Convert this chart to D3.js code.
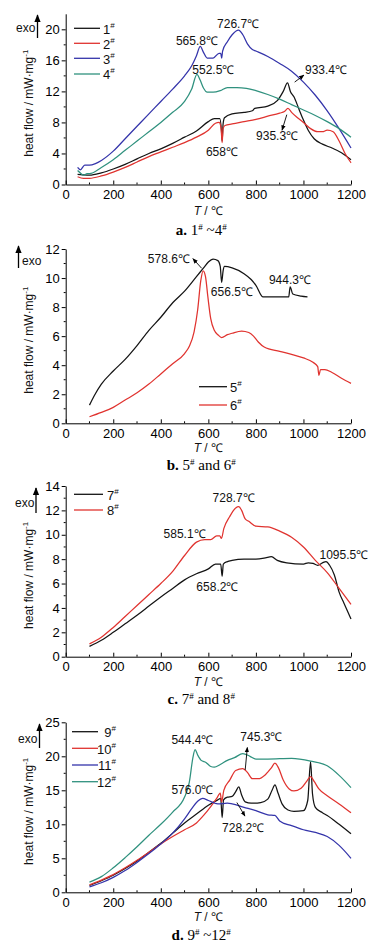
<!DOCTYPE html>
<html>
<head>
<meta charset="utf-8">
<script src="https://cdn.jsdelivr.net/npm/d3@7"></script>
<style>
  html, body { margin: 0; padding: 0; background: #fff; }
  svg { display: block; font-family: "Liberation Sans", Arial, sans-serif; }
</style>
</head>
<body>
<div id="chart"></div>
<script>
// ---- data: [T (°C), heat flow (mW/mg)] ----
const curve1 = [[50,1.3],[70,1.25],[100,1.2],[150,1.5],[200,2.0],[250,2.6],[300,3.3],[350,4.0],[400,4.6],[450,5.3],[500,6.1],[550,6.9],[600,8.1],[625,8.5],[648,8.5],[655,7.0],[658,5.6],[662,7.8],[668,8.6],[700,9.1],[750,9.3],[785,9.5],[795,9.8],[850,10.1],[890,10.8],[915,12.0],[933,13.1],[945,12.0],[960,11.3],[980,9.8],[1000,8.3],[1020,7.0],[1045,5.9],[1080,5.2],[1120,4.7],[1160,4.1],[1200,3.2]];
const curve2 = [[50,1.0],[75,0.8],[100,0.8],[150,1.1],[200,1.6],[250,2.2],[300,2.9],[350,3.6],[400,4.2],[450,4.8],[500,5.4],[550,6.1],[600,7.0],[630,7.9],[645,8.0],[653,7.4],[658,5.4],[662,7.2],[670,7.6],[700,7.8],[750,8.1],[800,8.4],[850,8.8],[900,9.2],[920,9.4],[935,9.8],[950,9.3],[975,8.6],[1000,8.0],[1030,7.2],[1060,6.8],[1080,6.8],[1100,7.0],[1125,6.8],[1150,5.6],[1175,4.0],[1200,2.8]];
const curve3 = [[50,2.2],[62,1.9],[80,2.5],[100,2.5],[125,2.7],[150,3.1],[200,4.3],[250,5.9],[300,7.5],[350,9.1],[400,10.7],[450,12.3],[500,14.0],[530,15.3],[550,16.6],[566,17.8],[580,17.0],[595,16.3],[620,16.3],[645,16.9],[652,16.9],[656,16.3],[660,17.2],[680,18.4],[700,19.3],[727,19.9],[745,19.3],[765,18.1],[785,17.4],[800,17.2],[850,16.5],[900,15.6],[950,14.6],[1000,13.2],[1050,11.5],[1100,9.5],[1150,7.2],[1200,4.7]];
const curve4 = [[50,1.8],[65,1.4],[75,1.2],[90,1.4],[100,1.4],[150,2.2],[200,3.2],[250,4.4],[300,5.6],[350,6.8],[400,8.0],[450,9.3],[500,10.7],[530,12.3],[552,14.2],[565,13.5],[580,12.4],[595,11.9],[620,11.9],[650,12.1],[680,12.5],[720,12.5],[760,12.4],[800,12.1],[850,11.6],[900,11.0],[950,10.3],[1000,9.6],[1050,8.9],[1100,8.1],[1150,7.2],[1200,6.1]];

const curve5 = [[100,1.25],[120,1.9],[150,2.7],[200,3.6],[250,4.4],[300,5.35],[350,6.4],[400,7.3],[450,8.3],[500,9.1],[550,10.1],[580,10.7],[600,11.1],[620,11.3],[640,11.2],[650,10.8],[656,9.7],[662,10.5],[668,10.8],[700,10.7],[750,10.3],[780,9.9],[800,9.5],[830,8.7],[900,8.7],[938,8.7],[944,9.4],[955,8.9],[990,8.75],[1017,8.7]];
const curve6 = [[100,0.45],[150,0.75],[200,1.1],[250,1.6],[300,2.1],[350,2.7],[400,3.4],[450,4.1],[500,4.8],[520,5.3],[540,6.3],[555,7.8],[568,9.8],[578,10.5],[588,10.1],[598,8.7],[610,7.2],[625,6.4],[640,6.1],[656,5.9],[680,6.1],[700,6.2],[740,6.35],[770,6.25],[790,6.0],[810,5.6],[835,5.25],[900,4.95],[950,4.75],[1000,4.5],[1040,4.2],[1060,3.9],[1065,3.3],[1072,3.7],[1090,3.7],[1120,3.5],[1160,3.1],[1200,2.75]];

const curve7 = [[100,0.85],[150,1.35],[200,2.0],[250,2.7],[300,3.4],[350,4.15],[400,4.9],[450,5.6],[500,6.3],[550,6.8],[600,7.2],[630,7.6],[652,7.6],[658,6.6],[663,7.6],[680,7.8],[700,7.9],[750,8.0],[800,8.0],[840,8.1],[865,8.2],[890,7.9],[930,7.7],[1000,7.6],[1020,7.7],[1040,7.65],[1060,7.5],[1080,7.7],[1095,7.8],[1110,7.5],[1130,6.7],[1150,5.3],[1170,4.4],[1200,3.1]];
const curve8 = [[100,1.05],[150,1.6],[200,2.4],[250,3.3],[300,4.2],[350,5.1],[400,6.0],[450,7.0],[500,8.3],[550,9.4],[585,9.6],[610,9.6],[635,9.9],[648,9.9],[655,9.7],[665,10.5],[690,11.5],[715,12.2],[728,12.3],[740,12.0],[755,11.3],[770,11.1],[800,10.7],[850,10.65],[900,10.3],[950,9.8],[1000,9.0],[1050,7.9],[1100,6.9],[1150,5.6],[1200,4.3]];

const curve9 = [[100,1.0],[150,1.7],[200,2.5],[250,3.5],[300,4.6],[350,5.9],[400,7.2],[450,8.7],[500,10.2],[550,11.5],[600,12.8],[640,13.6],[652,13.8],[658,11.0],[664,13.6],[680,14.0],[700,14.1],[715,14.8],[728,15.5],[740,14.3],[755,13.3],[780,13.1],[820,13.2],[850,13.7],[868,15.0],[880,15.8],[893,14.6],[910,13.0],[935,12.1],[960,11.9],[1000,12.0],[1018,13.5],[1030,19.2],[1038,14.5],[1050,12.5],[1080,11.7],[1100,11.3],[1150,10.0],[1200,8.6]];
const curve10 = [[100,1.1],[150,1.8],[200,2.6],[250,3.6],[300,4.7],[350,5.9],[400,7.1],[450,8.2],[500,9.2],[550,10.2],[580,11.3],[610,12.6],[635,13.8],[650,14.6],[656,13.3],[665,15.0],[690,16.5],[715,17.9],[745,18.2],[765,17.6],[785,16.7],[810,16.7],[840,17.3],[865,18.3],[880,19.0],[895,18.3],[915,16.5],[940,15.2],[960,14.9],[990,15.3],[1015,16.4],[1030,17.0],[1045,16.3],[1065,15.2],[1100,14.2],[1150,13.0],[1200,11.7]];
const curve11 = [[100,0.8],[150,1.4],[200,2.2],[250,3.2],[300,4.4],[350,5.7],[400,7.1],[450,8.7],[500,10.8],[530,12.3],[555,13.4],[576,13.8],[600,13.5],[640,13.0],[680,13.1],[700,13.0],[750,12.5],[800,12.0],[850,11.4],[880,11.3],[900,10.5],[950,9.8],[1000,9.2],[1050,8.8],[1100,8.2],[1150,6.9],[1200,5.0]];
const curve12 = [[100,1.5],[150,2.3],[200,3.6],[250,5.1],[300,6.7],[350,8.4],[400,10.0],[450,11.8],[500,14.0],[520,16.2],[535,19.8],[544,21.0],[555,20.2],[570,19.4],[590,19.1],[610,18.5],[625,18.4],[650,18.8],[680,19.4],[710,19.8],[745,20.4],[775,20.0],[800,19.6],[850,19.6],[950,19.7],[1030,19.3],[1100,18.6],[1150,17.2],[1200,15.4]];

const xTicks = [0, 200, 400, 600, 800, 1000, 1200];

// annotation texts placed at (T, value) centre; arrows from -> to in data space
const notesA = [["726.7℃",725,20.7],["565.8℃",552,18.6],["552.5℃",621,14.75],["933.4℃",1095,14.75],["935.3℃",889,6.25],["658℃",657,4.2]];
const arrowsA = [[[963,13.2],[1002,14.1]],[[930,9.0],[910,7.0]]];
const notesB = [["578.6℃",434,11.36],["656.5℃",699,9.06],["944.3℃",943,9.86]];
const arrowsB = [[[572,10.67],[535,11.34]]];
const notesC = [["728.7℃",706,13.04],["585.1℃",500,10.07],["658.2℃",638,5.74],["1095.5℃",1170,8.34]];
const arrowsC = [];
const notesD = [["544.4℃",533,22.4],["745.3℃",823,22.9],["576.0℃",533,15.04],["728.2℃",746,9.56]];
const arrowsD = [[[755,18.0],[764,21.3]],[[720,13.2],[754,11.2]]];

const BLACK = "#141414", RED = "#e0332f", BLUE = "#3434aa", TEAL = "#2f917e";

const panels = [
  { y0: 184.5, y1: 13.8, yMax: 22, yTicks: [0,4,8,12,16,20], yMinor: 2,
    series: [[curve1,"1",BLACK],[curve2,"2",RED],[curve3,"3",BLUE],[curve4,"4",TEAL]],
    legend: { x1: 74, x2: 100, tx: 103, ys: [28.3,43.3,58.3,74], anchor: "start" },
    exo: { tx: 16, ty: 28, ax: 37.5, ayTop: 14, ayBot: 38 },
    notes: notesA, arrows: arrowsA, tY: 215, capY: 235, cap: ["a.", "1", " ~4"] },
  { y0: 423.3, y1: 249, yMax: 12, yTicks: [0,2,4,6,8,10,12], yMinor: 1,
    series: [[curve5,"5",BLACK],[curve6,"6",RED]],
    legend: { x1: 199, x2: 227, tx: 230, ys: [386.7,405], anchor: "start" },
    exo: { tx: 22, ty: 261, ax: 18.5, ayTop: 245, ayBot: 268 },
    notes: notesB, arrows: arrowsB, tY: 452, capY: 470, cap: ["b.", "5", " and 6"] },
  { y0: 656.7, y1: 486, yMax: 14, yTicks: [0,2,4,6,8,10,12,14], yMinor: 1,
    series: [[curve7,"7",BLACK],[curve8,"8",RED]],
    legend: { x1: 74, x2: 103, tx: 107, ys: [494.3,510], anchor: "start" },
    exo: { tx: 15, ty: 503, ax: 36, ayTop: 487, ayBot: 513 },
    notes: notesC, arrows: arrowsC, tY: 686, capY: 704, cap: ["c.", "7", " and 8"] },
  { y0: 892.3, y1: 722.3, yMax: 25, yTicks: [0,5,10,15,20,25], yMinor: 2.5,
    series: [[curve9,"9",BLACK],[curve10,"10",RED],[curve11,"11",BLUE],[curve12,"12",TEAL]],
    legend: { x1: 72, x2: 98, tx: 116, ys: [731.7,748.3,765,781.7], anchor: "end" },
    exo: { tx: 18, ty: 739, ax: 39.5, ayTop: 723, ayBot: 748 },
    notes: notesD, arrows: arrowsD, tY: 921, capY: 940, cap: ["d.", "9", " ~12"] }
];

const W = 382, H = 949;
const svg = d3.select("#chart").append("svg").attr("width", W).attr("height", H);

const defs = svg.append("defs");
defs.append("marker").attr("id", "head").attr("viewBox", "0 0 10 10")
  .attr("refX", 9).attr("refY", 5).attr("markerWidth", 6).attr("markerHeight", 6)
  .attr("orient", "auto-start-reverse")
  .append("path").attr("d", "M0,1L10,5L0,9Z").attr("fill", "#000");

const x = d3.scaleLinear().domain([0, 1200]).range([65.7, 351]);

panels.forEach(p => {
  const y = d3.scaleLinear().domain([0, p.yMax]).range([p.y0, p.y1]);
  const g = svg.append("g");

  // curves
  const line = d3.line().x(d => x(d[0])).y(d => y(d[1])).curve(d3.curveMonotoneX);
  p.series.forEach(([data, , color]) => {
    g.append("path").datum(data).attr("d", line)
      .attr("fill", "none").attr("stroke", color).attr("stroke-width", 1.25);
  });

  // x axis
  const xMinor = d3.range(100, 1200, 200);
  const xa = g.append("g").attr("transform", `translate(0,${p.y0})`)
    .call(d3.axisBottom(x).tickValues(xTicks).tickFormat(d3.format("d"))
      .tickSize(-4).tickPadding(5).tickSizeOuter(0));
  xa.selectAll("text").attr("font-size", 13).attr("fill", "#000");
  xa.selectAll(".minor").data(xMinor).enter().append("line")
    .attr("x1", d => x(d)).attr("x2", d => x(d)).attr("y1", 0).attr("y2", -2)
    .attr("stroke", "#000");

  // y axis
  const yMinor = d3.range(p.yMinor, p.yMax, p.yMinor).filter(v => !p.yTicks.includes(v));
  const ya = g.append("g").attr("transform", `translate(${x(0)},0)`)
    .call(d3.axisLeft(y).tickValues(p.yTicks).tickSize(4).tickPadding(2).tickSizeOuter(0));
  ya.selectAll("text").attr("font-size", 13).attr("fill", "#000");
  ya.selectAll(".minor").data(yMinor).enter().append("line")
    .attr("y1", d => y(d)).attr("y2", d => y(d)).attr("x1", 0).attr("x2", -2)
    .attr("stroke", "#000");
  g.selectAll(".domain").attr("stroke", "#000");

  // axis titles
  const yl = g.append("text")
    .attr("transform", `translate(33,${(p.y0 + p.y1) / 2 + 4}) rotate(-90)`)
    .attr("text-anchor", "middle").attr("font-size", 12).attr("fill", "#111");
  yl.append("tspan").text("heat flow / mW·mg");
  yl.append("tspan").attr("dy", -5).attr("font-size", 8).text("-1");

  const tl = g.append("text").attr("x", x(600)).attr("y", p.tY)
    .attr("text-anchor", "middle").attr("font-size", 12).attr("fill", "#111");
  tl.append("tspan").attr("font-style", "italic").text("T");
  tl.append("tspan").text(" / ℃");

  // caption
  const cap = g.append("text").attr("x", x(570)).attr("y", p.capY)
    .attr("text-anchor", "middle").attr("font-family", "'Liberation Serif', 'Times New Roman', serif")
    .attr("font-size", 15).attr("fill", "#000");
  cap.append("tspan").attr("font-weight", "bold").text(p.cap[0] + "  ");
  cap.append("tspan").text(p.cap[1]);
  cap.append("tspan").attr("dy", -5).attr("font-size", 9).text("#");
  cap.append("tspan").attr("dy", 5).text(p.cap[2]);
  cap.append("tspan").attr("dy", -5).attr("font-size", 9).text("#");

  // exo arrow
  g.append("line").attr("x1", p.exo.ax).attr("x2", p.exo.ax)
    .attr("y1", p.exo.ayBot).attr("y2", p.exo.ayTop + 1)
    .attr("stroke", "#000").attr("stroke-width", 1.3).attr("marker-end", "url(#head)");
  g.append("text").attr("x", p.exo.tx).attr("y", p.exo.ty).attr("dy", "0.35em")
    .attr("font-size", 12).attr("fill", "#111").text("exo");

  // legend
  p.series.forEach(([, name, color], i) => {
    const ly = p.legend.ys[i];
    g.append("line").attr("x1", p.legend.x1).attr("x2", p.legend.x2)
      .attr("y1", ly).attr("y2", ly).attr("stroke", color).attr("stroke-width", 1.3);
    const t = g.append("text").attr("x", p.legend.tx).attr("y", ly).attr("dy", "0.4em")
      .attr("text-anchor", p.legend.anchor).attr("font-size", 13).attr("fill", "#111");
    t.append("tspan").text(name);
    t.append("tspan").attr("dy", -6).attr("font-size", 8).text("#");
  });

  // annotations
  p.notes.forEach(([txt, t, v]) => {
    g.append("text").attr("x", x(t)).attr("y", y(v)).attr("dy", "0.36em")
      .attr("text-anchor", "middle").attr("font-size", 12).attr("fill", "#111").text(txt);
  });
  p.arrows.forEach(([a, b]) => {
    g.append("line").attr("x1", x(a[0])).attr("y1", y(a[1]))
      .attr("x2", x(b[0])).attr("y2", y(b[1]))
      .attr("stroke", "#000").attr("stroke-width", 0.9).attr("marker-end", "url(#head)");
  });
});
</script>
</body>
</html>
